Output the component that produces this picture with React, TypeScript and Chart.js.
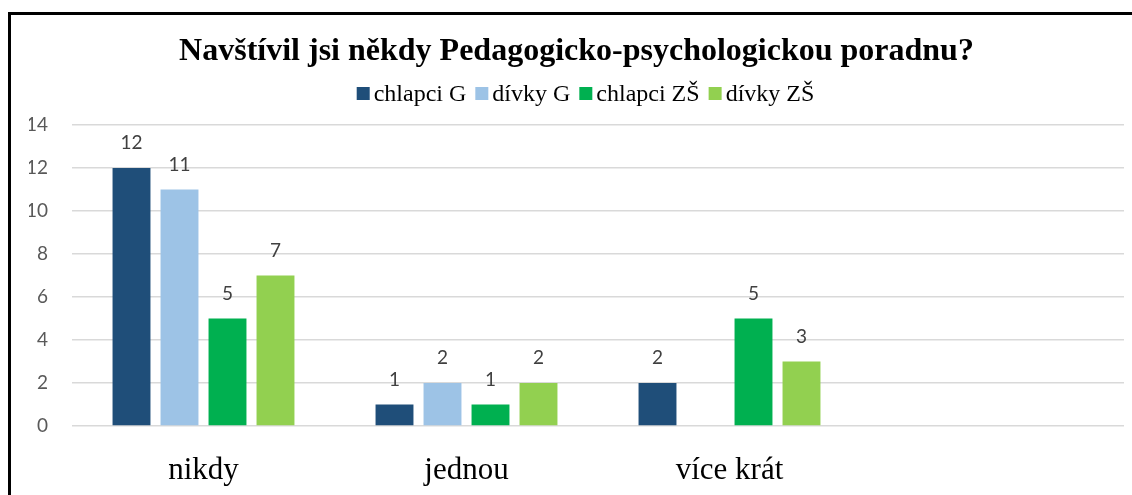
import React, { useEffect, useRef } from "react";
import { Chart, registerables } from "chart.js";

Chart.register(...registerables);

const categories = ["nikdy", "jednou", "více krát", ""];
const seriesNames = ["chlapci G", "dívky G", "chlapci ZŠ", "dívky ZŠ"];
const chlapciG = [12, 1, 2, null];
const divkyG = [11, 2, 0, null];
const chlapciZS = [5, 1, 5, null];
const divkyZS = [7, 2, 3, null];
const seriesColors = ["#1F4E79", "#9DC3E6", "#00B050", "#92D050"];
const yTicks = { min: 0, max: 14, step: 2 };
const titleText = "Navštívil jsi někdy Pedagogicko-psychologickou poradnu?";

const dataLabels = {
  id: "dataLabels",
  afterDatasetsDraw(chart: any) {
    const ctx = chart.ctx;
    ctx.save();
    ctx.font = "19px Lato";
    ctx.fillStyle = "#404040";
    ctx.textAlign = "center";
    ctx.textBaseline = "middle";
    chart.data.datasets.forEach((ds: any, i: number) => {
      const meta = chart.getDatasetMeta(i);
      meta.data.forEach((el: any, j: number) => {
        const v = ds.data[j];
        if (v === null || v === 0 || v === undefined) return;
        ctx.fillText(String(v), el.x, el.y - 25);
      });
    });
    ctx.restore();
  },
};

const customLegend = {
  id: "customLegend",
  afterDraw(chart: any) {
    const ctx = chart.ctx;
    ctx.save();
    ctx.font = "24px 'Liberation Serif'";
    const box = 13;
    const gapText = 4;
    const gapItem = 9;
    const items = chart.data.datasets.map((ds: any) => ({
      text: ds.label,
      color: ds.backgroundColor,
      w: ctx.measureText(ds.label).width,
    }));
    const total =
      items.reduce((s: number, it: any) => s + box + gapText + it.w, 0) +
      gapItem * (items.length - 1);
    let x = 574.5 - total / 2;
    const baseline = 86;
    ctx.textBaseline = "alphabetic";
    ctx.textAlign = "left";
    items.forEach((it: any) => {
      ctx.fillStyle = it.color;
      ctx.fillRect(x, 72, box, box);
      x += box + gapText;
      ctx.fillStyle = "#000";
      ctx.fillText(it.text, x, baseline);
      x += it.w + gapItem;
    });
    ctx.restore();
  },
};

export default function App() {
  const ref = useRef<HTMLCanvasElement>(null);
  useEffect(() => {
    if (!ref.current) return;
    const chart = new Chart(ref.current, {
      type: "bar",
      data: {
        labels: categories,
        datasets: [chlapciG, divkyG, chlapciZS, divkyZS].map((d, i) => ({
          label: seriesNames[i],
          data: d,
          backgroundColor: seriesColors[i],
          borderWidth: 0,
          categoryPercentage: 0.73,
          barPercentage: 0.79,
        })),
      },
      options: {
        animation: false,
        responsive: false,
        maintainAspectRatio: false,
        layout: { padding: { left: 18, right: 18, top: 0, bottom: 0 } },
        plugins: {
          title: {
            display: true,
            text: titleText,
            color: "#000",
            font: { family: "'Liberation Serif'", size: 32, weight: "bold", lineHeight: 1.2 },
            padding: { top: 18, bottom: 53.6 },
          },
          legend: { display: false },
          tooltip: { enabled: false },
        },
        scales: {
          x: {
            grid: { display: false, drawTicks: false },
            border: { display: false },
            ticks: {
              color: "#000",
              font: { family: "'Liberation Serif'", size: 31 },
              padding: 26,
              maxRotation: 0,
              autoSkip: false,
            },
            afterFit(s: any) {
              s.height = 69;
            },
          },
          y: {
            min: yTicks.min,
            max: yTicks.max,
            grid: { color: "#d9d9d9", lineWidth: 1.5, drawTicks: false },
            border: { display: false },
            ticks: {
              stepSize: yTicks.step,
              color: "#595959",
              font: { family: "Lato", size: 19 },
              padding: 24,
            },
            afterFit(s: any) {
              s.width = 43;
            },
          },
        },
      },
      plugins: [dataLabels, customLegend],
    });
    return () => chart.destroy();
  }, []);

  return (
    <div
      style={{
        position: "fixed",
        left: 0,
        top: 0,
        width: 1132,
        height: 495,
        overflow: "hidden",
        background: "#fff",
      }}
    >
      <div
        style={{
          position: "absolute",
          left: 8,
          top: 12,
          width: 1200,
          height: 600,
          borderLeft: "3px solid #000",
          borderTop: "3px solid #000",
        }}
      />
      <canvas
        ref={ref}
        width={1131}
        height={480}
        style={{ position: "absolute", left: 11, top: 15, width: 1131, height: 480 }}
      />
    </div>
  );
}
